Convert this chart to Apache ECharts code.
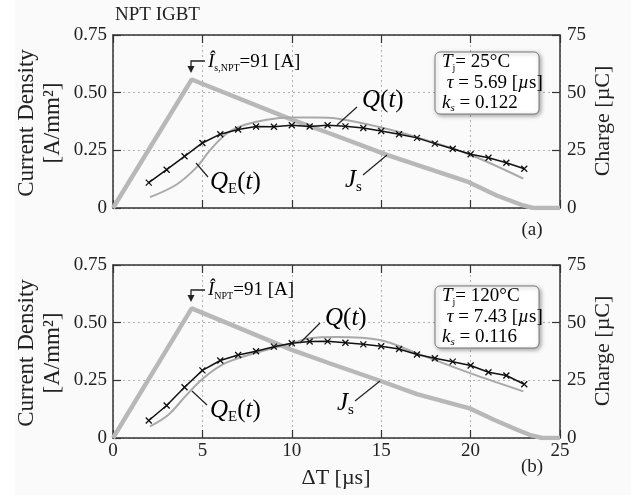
<!DOCTYPE html>
<html>
<head>
<meta charset="utf-8">
<script src="https://cdn.jsdelivr.net/npm/echarts@6/dist/echarts.min.js"></script>
<style>
  html, body { margin: 0; padding: 0; background: #fff; }
  #chart { width: 631px; height: 495px; }
</style>
</head>
<body>
<div id="chart"></div>
<script>
// ---- Tick labels ----
const timeTickLabels = ['0', '5', '10', '15', '20', '25'];
const densityTickLabels = ['0', '0.25', '0.50', '0.75'];
const chargeTickLabels = ['0', '25', '50', '75'];

// ---- Measured charge Q(t) [µC], sampled every microsecond ----
const qTime = [2, 3, 4, 5, 6, 7, 8, 9, 10, 11, 12, 13, 14, 15, 16, 17, 18, 19, 20, 21, 22, 23];
const q25 = [11.0, 16.6, 22.4, 28.2, 32.0, 34.0, 35.3, 35.2, 35.9, 35.3, 35.9, 35.4, 34.7, 33.4, 32.0, 30.4, 27.9, 25.7, 23.3, 21.8, 19.6, 17.0];
const q120 = [7.6, 14.1, 22.0, 29.3, 33.6, 36.0, 37.6, 39.6, 41.1, 41.8, 41.9, 41.3, 40.6, 39.8, 38.6, 36.2, 34.6, 33.1, 31.4, 28.5, 27.1, 23.3];

// ---- Model charge Q_E(t) [µC] ----
const qe25Time = [2.07, 3.56, 4.68, 5.42, 6.36, 7.29, 8.6, 10.0, 11.4, 12.5, 14.9, 16.8, 19.9, 22.95];
const qe25 = [4.7, 10.2, 17.7, 25.0, 32.3, 35.9, 38.3, 39.2, 39.2, 38.8, 35.1, 31.1, 23.3, 12.7];
const qe120Time = [2.07, 3.1, 4.12, 5.05, 6.17, 7.29, 8.6, 10.0, 11.0, 12.5, 14.93, 17.0, 19.97, 22.95];
const qe120 = [5.0, 10.1, 18.7, 25.9, 32.0, 35.3, 38.2, 41.1, 43.2, 43.8, 42.5, 36.7, 28.1, 20.2];

// ---- Current density J_s [A/mm²] ----
const js25Time = [0, 4.4, 10.0, 12.1, 15.4, 19.9, 21.46, 22.95, 23.5, 25];
const js25 = [0, 0.557, 0.383, 0.324, 0.228, 0.112, 0.054, 0.011, 0, 0];
const js120Time = [0, 4.4, 10.0, 12.1, 14.93, 17.0, 20.0, 21.27, 22.6, 23.3, 24.0, 25];
const js120 = [0, 0.562, 0.382, 0.324, 0.248, 0.19, 0.127, 0.08, 0.036, 0.014, 0, 0];

const zip = (xs, ys) => xs.map((x, i) => [x, ys[i]]);

const SERIF = '"Liberation Serif", "DejaVu Serif", serif';
const INK = '#222';
const FRAME = '#333';

const chart = echarts.init(document.getElementById('chart'), null, { renderer: 'canvas' });

const grids = [
  { left: 113, top: 35, width: 447, height: 173 },
  { left: 113, top: 265, width: 447, height: 173 }
];

const tickStyle = () => ({ show: true, inside: true, length: 8, lineStyle: { color: FRAME, width: 1.2 } });
const frameLine = () => ({ show: true, onZero: false, lineStyle: { color: FRAME, width: 1.5 } });
const gridLines = () => ({ show: true, lineStyle: { color: '#b0b0b0', width: 1, type: [2, 3] } });
const labelFont = () => ({ fontFamily: SERIF, fontSize: 19, color: INK });

function timeAxis(gridIndex, position, withLabels, withSplit) {
  return {
    type: 'value', gridIndex, position, min: 0, max: 25, interval: 5,
    axisLine: frameLine(),
    axisTick: tickStyle(),
    splitLine: withSplit ? gridLines() : { show: false },
    axisLabel: withLabels
      ? Object.assign({ show: true, margin: 4, formatter: v => timeTickLabels[Math.round(v / 5)] }, labelFont())
      : { show: false }
  };
}
function densityAxis(gridIndex) {
  return {
    type: 'value', gridIndex, position: 'left', min: 0, max: 0.75, interval: 0.25,
    axisLine: frameLine(),
    axisTick: tickStyle(),
    splitLine: gridLines(),
    axisLabel: Object.assign({ margin: 6, formatter: v => densityTickLabels[Math.round(v / 0.25)] }, labelFont())
  };
}
function chargeAxis(gridIndex) {
  return {
    type: 'value', gridIndex, position: 'right', min: 0, max: 75, interval: 25,
    axisLine: frameLine(),
    axisTick: tickStyle(),
    splitLine: { show: false },
    axisLabel: Object.assign({ margin: 7, formatter: v => chargeTickLabels[Math.round(v / 25)] }, labelFont())
  };
}

function jsSeries(xi, yi, data) {
  return {
    type: 'line', xAxisIndex: xi, yAxisIndex: yi, data, showSymbol: false, symbol: 'none',
    lineStyle: { color: '#b8b8b8', width: 4.4 }, z: 2, animation: false
  };
}
function qeSeries(xi, yi, data) {
  return {
    type: 'line', xAxisIndex: xi, yAxisIndex: yi, data, symbol: 'none', smooth: 0.35,
    lineStyle: { color: '#a9a9a9', width: 2 }, z: 3, animation: false
  };
}
function qSeries(xi, yi, data) {
  return {
    type: 'line', xAxisIndex: xi, yAxisIndex: yi, data,
    symbol: 'path://M0,0L10,10M10,0L0,10', symbolSize: 6, showAllSymbol: true,
    itemStyle: { color: 'rgba(0,0,0,0)', borderColor: '#111', borderWidth: 1.3 },
    lineStyle: { color: '#111', width: 1.5 }, z: 4, animation: false
  };
}

// rich-text styles shared by annotation labels
const rich = {
  i: { fontFamily: SERIF, fontStyle: 'italic', fontSize: 19, color: INK, lineHeight: 22 },
  n: { fontFamily: SERIF, fontSize: 19, color: INK, lineHeight: 22 },
  s: { fontFamily: SERIF, fontSize: 10, color: INK, lineHeight: 22, verticalAlign: 'bottom' },
  si: { fontFamily: SERIF, fontStyle: 'italic', fontSize: 11, color: INK, lineHeight: 22, verticalAlign: 'bottom' },
  I: { fontFamily: SERIF, fontStyle: 'italic', fontSize: 25, color: INK, lineHeight: 28 },
  N: { fontFamily: SERIF, fontSize: 25, color: INK, lineHeight: 28 },
  S: { fontFamily: SERIF, fontSize: 15, color: INK, lineHeight: 30, verticalAlign: 'bottom' }
};

function label(x, y, text) {
  return { type: 'text', x, y, z: 20, style: { text, rich, align: 'left', verticalAlign: 'middle' } };
}
function leader(x1, y1, x2, y2) {
  return { type: 'line', z: 20, shape: { x1, y1, x2, y2 }, style: { stroke: INK, lineWidth: 1.2 } };
}
function peakArrow(yTop) {
  return [
    { type: 'polyline', z: 20, shape: { points: [[205, yTop], [191, yTop], [191, yTop + 6]] },
      style: { stroke: INK, lineWidth: 1.3, fill: null } },
    { type: 'polygon', z: 20, shape: { points: [[187.5, yTop + 5], [194.5, yTop + 5], [191, yTop + 12]] },
      style: { fill: INK } }
  ];
}
function infoBox(y, lines) {
  return [
    { type: 'rect', z: 18, shape: { x: 435, y, width: 104, height: 62, r: 5 },
      style: { fill: '#fff', stroke: '#7a7a7a', lineWidth: 1,
               shadowBlur: 4, shadowColor: 'rgba(0,0,0,0.35)', shadowOffsetX: 1.5, shadowOffsetY: 1.5 } },
    label(442, y + 10, lines[0]),
    label(442, y + 31, lines[1]),
    label(442, y + 51, lines[2])
  ];
}
function rotatedText(x, y, text, size) {
  return { type: 'text', x, y, rotation: Math.PI / 2, z: 20,
    style: { text, font: size + 'px ' + SERIF, fill: INK, align: 'center', verticalAlign: 'middle', lineHeight: 26 } };
}
function plainText(x, y, text, align) {
  return { type: 'text', x, y, z: 20,
    style: { text, font: '19px ' + SERIF, fill: INK, align: align || 'center', verticalAlign: 'middle' } };
}

const graphics = [
  { type: 'rect', z: -1, shape: { x: 15, y: 0, width: 616, height: 495 }, style: { fill: '#fafafa' } },
  plainText(115, 15, 'NPT IGBT', 'left'),
  rotatedText(40, 123, 'Current Density\n[A/mm²]', 23),
  rotatedText(603, 121, 'Charge [µC]', 22),
  rotatedText(40, 353, 'Current Density\n[A/mm²]', 23),
  rotatedText(603, 351, 'Charge [µC]', 22),
  { type: 'text', x: 336, y: 478, z: 20,
    style: { text: 'ΔT [µs]', font: '22px ' + SERIF, fill: INK, align: 'center', verticalAlign: 'middle' } },
  plainText(532, 230, '(a)'),
  plainText(532, 467, '(b)'),

  // panel (a) annotations
  ...peakArrow(61),
  label(208, 62, '{i|Î}{s|s,NPT}{n|=91 [A]}'),
  leader(196, 163, 208, 177),
  label(210, 182, '{I|Q}{S|E}{N|(}{I|t}{N|)}'),
  leader(337, 125, 357, 107),
  label(362, 100, '{I|Q}{N|(}{I|t}{N|)}'),
  leader(363, 175, 387, 155),
  label(345, 180, '{I|J}{S|s}'),
  ...infoBox(52, [
    '{i|T}{s|j}{n|= 25°C}',
    '{n| }{i|τ}{n| = 5.69 [}{i|µ}{n|s]}',
    '{i|k}{si|s}{n| = 0.122}'
  ]),

  // panel (b) annotations
  ...peakArrow(290),
  label(208, 290, '{i|Î}{s|NPT}{n|=91 [A]}'),
  leader(192, 391, 207, 405),
  label(210, 410, '{I|Q}{S|E}{N|(}{I|t}{N|)}'),
  leader(300, 343, 320, 323),
  label(325, 318, '{I|Q}{N|(}{I|t}{N|)}'),
  leader(355, 401, 380, 381),
  label(337, 403, '{I|J}{S|s}'),
  ...infoBox(286, [
    '{i|T}{s|j}{n|= 120°C}',
    '{n| }{i|τ}{n| = 7.43 [}{i|µ}{n|s]}',
    '{i|k}{si|s}{n| = 0.116}'
  ])
];

const option = {
  backgroundColor: '#ffffff',
  animation: false,
  grid: grids.map(g => Object.assign({ show: false, containLabel: false }, g)),
  xAxis: [
    timeAxis(0, 'bottom', false, true),
    timeAxis(0, 'top', false, false),
    timeAxis(1, 'bottom', true, true),
    timeAxis(1, 'top', false, false)
  ],
  yAxis: [densityAxis(0), chargeAxis(0), densityAxis(1), chargeAxis(1)],
  series: [
    jsSeries(0, 0, zip(js25Time, js25)),
    qeSeries(0, 1, zip(qe25Time, qe25)),
    qSeries(0, 1, zip(qTime, q25)),
    jsSeries(2, 2, zip(js120Time, js120)),
    qeSeries(2, 3, zip(qe120Time, qe120)),
    qSeries(2, 3, zip(qTime, q120))
  ],
  graphic: graphics
};

chart.setOption(option);
</script>
</body>
</html>
